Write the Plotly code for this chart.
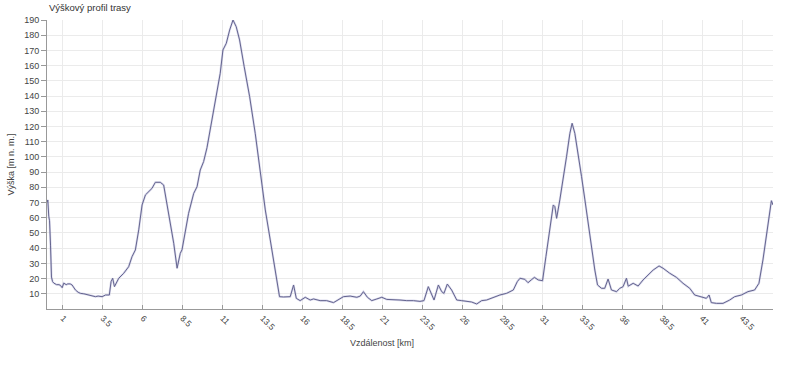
import plotly.graph_objects as go

distance_km = [
    0.00, 0.05, 0.11, 0.16, 0.22, 0.28, 0.35, 0.43, 0.60, 0.75, 0.84, 0.95, 1.05, 1.20, 1.30, 1.45,
    1.57, 1.78, 1.95, 2.09, 2.30, 2.50, 2.72, 2.90, 3.03, 3.20, 3.45, 3.66, 3.90, 4.01, 4.11, 4.22,
    4.49, 4.80, 5.11, 5.32, 5.53, 5.74, 5.95, 6.16, 6.36, 6.57, 6.78, 7.09, 7.30, 7.51, 7.72, 7.93,
    8.14, 8.34, 8.45, 8.66, 8.86, 9.18, 9.39, 9.59, 9.80, 10.01, 10.32, 10.64, 10.84, 11.01, 11.22,
    11.43, 11.64, 11.84, 12.05, 12.34, 12.68, 13.03, 13.34, 13.66, 13.97, 14.28, 14.55, 14.80, 15.22,
    15.43, 15.60, 15.84, 16.16, 16.47, 16.68, 17.09, 17.50, 17.93, 18.24, 18.55, 18.97, 19.39, 19.60,
    19.80, 20.05, 20.32, 20.64, 20.95, 21.26, 21.68, 22.09, 22.51, 22.93, 23.34, 23.59, 23.86, 24.07,
    24.22, 24.49, 24.70, 24.84, 25.05, 25.32, 25.64, 25.95, 26.26, 26.57, 26.89, 27.20, 27.51, 27.93,
    28.34, 28.76, 29.18, 29.43, 29.60, 29.90, 30.10, 30.30, 30.50, 30.74, 31.01, 31.22, 31.47, 31.68,
    31.78, 31.89, 32.09, 32.30, 32.51, 32.72, 32.86, 33.03, 33.24, 33.45, 33.66, 33.86, 34.07, 34.28,
    34.45, 34.70, 34.90, 35.11, 35.32, 35.64, 35.84, 36.05, 36.26, 36.37, 36.68, 36.99, 37.30, 37.61,
    37.93, 38.30, 38.55, 38.97, 39.39, 39.80, 40.22, 40.53, 40.95, 41.26, 41.43, 41.57, 41.89, 42.30,
    42.72, 43.03, 43.45, 43.86, 44.28, 44.55, 44.80, 45.01, 45.22, 45.33, 45.43,
]

elevation_m = [
    70, 71.7, 61, 58, 42, 21, 18, 17, 16, 16, 15.5, 14, 17, 16, 16.5, 16.5,
    15.8, 12.5, 11, 10.3, 10, 9.5, 9.2, 8.5, 8.1, 8.5, 8.1, 9.2, 9.2, 18, 20.2, 14.7,
    20.2, 23.5, 27.8, 34.4, 38.8, 52, 68.4, 75, 77, 79.3, 83.3, 83.3, 81.5, 69.5, 56, 43.2,
    26.8, 36.6, 39, 52, 62.9, 76, 80.4, 91.4, 96.9, 106, 124.3, 141.8, 155, 170.3, 174.7,
    183.4, 190, 185.6, 176.9, 159.3, 139.6, 115.5, 91.4, 65.1, 45.4, 25.6, 8.1, 7.9, 8.1,
    15.8, 7, 5.5, 7.7, 5.9, 6.6, 5.5, 5.5, 4.2, 5.9, 8.1, 8.5, 7.7, 8.5,
    11.4, 7.7, 5.5, 6.6, 7.7, 6.3, 6.3, 5.9, 5.5, 5.5, 5.0, 5.5, 14.7, 9.2,
    5.9, 15.8, 11.4, 10.3, 16.4, 12.5, 5.9, 5.5, 5.0, 4.6, 3.3, 5.5, 5.9, 7.7,
    9.2, 10.3, 12.5, 18, 20.2, 19.5, 17.3, 19.1, 20.8, 19.1, 18.6, 34.4, 52, 68.4,
    67.3, 59.6, 71.7, 84.8, 100.1, 115.5, 122.1, 115.5, 102.4, 87, 71.7, 56.3, 41, 25.6,
    15.8, 13.6, 13.6, 19.7, 12.5, 11.4, 13.6, 14.7, 20.2, 15, 16.9, 15.1, 19.1, 22.4,
    25.6, 28.3, 26.8, 23.5, 20.8, 16.9, 13.6, 9.2, 8.1, 7, 9.2, 4.2, 3.7, 3.7,
    5.9, 8.1, 9.2, 11.4, 12.5, 16.9, 32.2, 47.5, 62.9, 71.2, 68.4,
]

y_ticks = list(range(10, 200, 10))

chart_title = "Výškový profil trasy"
x_title = "Vzdálenost [km]"
y_title = "Výška [m n. m.]"

FONT = "Liberation Sans"

fig = go.Figure()
fig.add_trace(go.Scatter(
    x=distance_km, y=elevation_m, mode="lines",
    line=dict(color="rgba(150,150,200,0.35)", width=2.2),
    hoverinfo="skip", showlegend=False,
))
fig.add_trace(go.Scatter(
    x=distance_km, y=elevation_m, mode="lines",
    line=dict(color="#64648f", width=1),
    showlegend=False,
))

fig.update_layout(
    width=800, height=367,
    margin=dict(l=47, r=27, t=20, b=58),
    paper_bgcolor="white", plot_bgcolor="white",
    font=dict(family=FONT, size=9, color="#444"),
    title=dict(text=chart_title, xref="container", yref="container",
               x=49 / 800, xanchor="left", y=1 - 7.5 / 367, yanchor="middle",
               font=dict(family=FONT, size=9.5, color="#333")),
    xaxis=dict(
        range=[0, 45.43], tickmode="linear", tick0=1, dtick=2.5,
        tickangle=45, showgrid=True, gridcolor="#ebebeb", gridwidth=1,
        showline=True, linecolor="#999", linewidth=1,
        ticks="inside", ticklen=4, tickcolor="#999",
        zeroline=False, tickfont=dict(size=8.5, color="#444"),
    ),
    yaxis=dict(
        range=[0, 190], tickmode="array", tickvals=y_ticks,
        showgrid=True, gridcolor="#ebebeb", gridwidth=1,
        showline=True, linecolor="#999", linewidth=1,
        ticks="outside", ticklen=5, tickcolor="#999",
        zeroline=False, tickfont=dict(size=9, color="#444"),
    ),
    annotations=[
        dict(text=x_title, xref="paper", yref="paper", x=(382 - 47) / 726, y=(309 - 343) / 289,
             xanchor="center", yanchor="middle", showarrow=False,
             font=dict(family=FONT, size=9, color="#444")),
        dict(text=y_title, xref="paper", yref="paper", x=(10 - 47) / 726, y=0.5,
             xanchor="center", yanchor="middle", showarrow=False, textangle=-90,
             font=dict(family=FONT, size=9, color="#444")),
    ],
)

fig.write_html("out.html", config={"displayModeBar": False},
               post_script="document.body.style.margin='0';")
